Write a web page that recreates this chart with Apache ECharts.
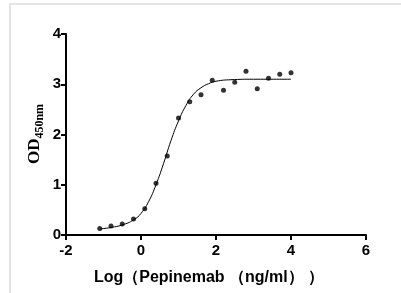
<!DOCTYPE html>
<html lang="en">
<head>
    <meta charset="utf-8">
    <script src="https://cdn.jsdelivr.net/npm/echarts@6/dist/echarts.min.js"></script>
    <title>od450_curve</title>
</head>
<body>
<style>
    html, body, #main {
        width: 100%;
        height: 100%;
        margin: 0;
        background: #fff;
    }
</style>
<div id='main'></div>
<script>
    // measured points, log concentration vs OD450
    var logConc = [-1.1, -0.8, -0.5, -0.2, 0.1, 0.4, 0.7, 1.0, 1.3, 1.6, 1.9, 2.2, 2.5, 2.8, 3.1, 3.4, 3.7, 4.0];
    var odValues = [0.13, 0.18, 0.22, 0.32, 0.52, 1.03, 1.57, 2.33, 2.65, 2.79, 3.08, 2.88, 3.04, 3.26, 2.91, 3.12, 3.20, 3.23];

    // fitted curve
    var fitX = [-1.1, -0.8, -0.5, -0.2, 0.0, 0.2, 0.4, 0.6, 0.8, 1.0, 1.2, 1.4, 1.6, 1.8, 2.0, 2.4, 3.0, 4.0];
    var fitY = [0.12, 0.15, 0.2, 0.3, 0.43, 0.66, 1.0, 1.42, 1.88, 2.27, 2.58, 2.8, 2.93, 3.01, 3.06, 3.09, 3.1, 3.1];

    var xTicks = [-2, 0, 2, 4, 6];
    var yTicks = [0, 1, 2, 3, 4];

    var pts = [];
    for (var i = 0; i < logConc.length; i++) {
        pts.push([logConc[i], odValues[i]]);
    }
    var fit = [];
    for (var j = 0; j < fitX.length; j++) {
        fit.push([fitX[j], fitY[j]]);
    }

    var tickFont = {
        color: '#000',
        fontFamily: 'Liberation Sans',
        fontWeight: 'bold',
        fontSize: 15
    };

    var chart = echarts.init(document.getElementById('main'));
    var option = {
        animation: false,
        grid: {left: 66, right: 35, top: 34, bottom: 58},
        xAxis: {
            type: 'value',
            min: xTicks[0],
            max: xTicks[xTicks.length - 1],
            interval: 2,
            name: 'Log（Pepinemab （ng/ml） ）',
            nameLocation: 'middle',
            nameGap: 35,
            nameTextStyle: {
                color: '#000',
                fontFamily: 'Liberation Sans',
                fontWeight: 'bold',
                fontSize: 16,
                padding: [0, 14, 0, 0]
            },
            axisLine: {onZero: false, lineStyle: {color: '#000', width: 2}},
            axisTick: {length: 5, lineStyle: {color: '#000', width: 2}},
            axisLabel: Object.assign({margin: 8}, tickFont),
            splitLine: {show: false}
        },
        yAxis: {
            type: 'value',
            min: yTicks[0],
            max: yTicks[yTicks.length - 1],
            interval: 1,
            axisLine: {show: true, onZero: false, lineStyle: {color: '#000', width: 2}},
            axisTick: {show: true, length: 5, lineStyle: {color: '#000', width: 2}},
            axisLabel: Object.assign({margin: 5}, tickFont),
            splitLine: {show: false}
        },
        graphic: [
            {type: 'rect', shape: {x: 10, y: 4, width: 400, height: 300},
             style: {fill: 'none', stroke: '#e4e4e4', lineWidth: 2}, silent: true},
            {
                type: 'text',
                x: 35,
                y: 134,
                rotation: Math.PI / 2,
                style: {
                    text: '{a|OD}{b|450nm}',
                    align: 'center',
                    verticalAlign: 'middle',
                    rich: {
                        a: {fontFamily: 'Liberation Serif', fontWeight: 'bold', fontSize: 17, fill: '#000', verticalAlign: 'bottom'},
                        b: {fontFamily: 'Liberation Serif', fontWeight: 'bold', fontSize: 12, fill: '#000', verticalAlign: 'bottom', padding: [0, 0, -2, 0]}
                    }
                }
            }
        ],
        series: [
            {
                type: 'line',
                data: fit,
                smooth: true,
                symbol: 'none',
                lineStyle: {color: '#000', width: 1}
            },
            {
                type: 'scatter',
                data: pts,
                symbolSize: 5,
                itemStyle: {color: '#000'}
            }
        ]
    };
    chart.setOption(option);

    window.onresize = chart.resize;
</script>
</body>
</html>
